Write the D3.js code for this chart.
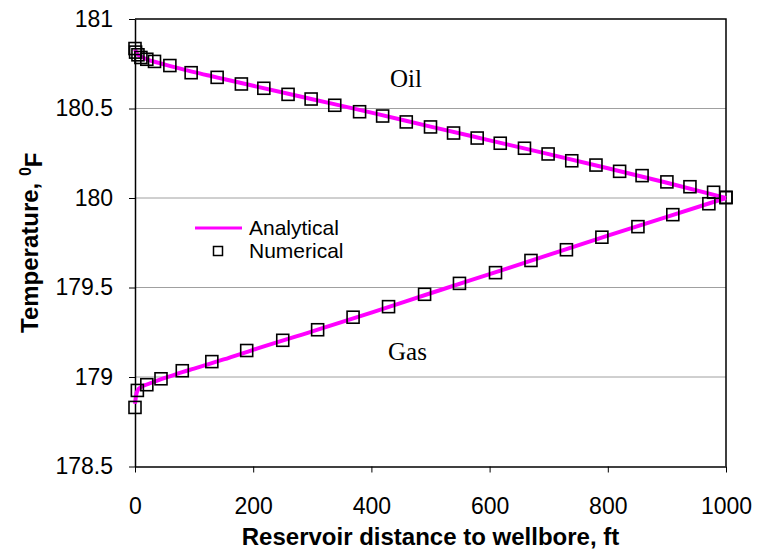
<!DOCTYPE html>
<html>
<head>
<meta charset="utf-8">
<script src="https://cdn.jsdelivr.net/npm/d3@7"></script>
<style>
  body { margin: 0; background: #fff; }
  svg text { font-family: "Liberation Sans", Arial, sans-serif; fill: #000; }
  .axis path { stroke: #000; stroke-width: 1.5; }
  .axis line { stroke: #000; stroke-width: 1; }
  .axis text { font-size: 23px; }
</style>
</head>
<body>
<div id="chart"></div>
<script>
// analytical solution (distance ft, temperature F)
const analyticX = [0, 2, 5, 10, 20, 40, 60, 80, 100, 130, 150, 200, 300, 400, 500, 600, 700, 800, 900, 1000];
const oilAnalytic = [180.83, 180.815, 180.80, 180.79, 180.775, 180.755, 180.737, 180.72, 180.703, 180.68, 180.665, 180.627, 180.552, 180.477, 180.399, 180.322, 180.245, 180.166, 180.085, 180.0];
const gasAnalytic = [178.85, 178.90, 178.928, 178.943, 178.958, 178.983, 179.005, 179.027, 179.047, 179.078, 179.098, 179.152, 179.255, 179.36, 179.468, 179.575, 179.682, 179.79, 179.895, 180.0];

// numerical results
const oilNumX = [0, 1, 5, 10, 20, 33, 59, 95, 139, 180, 218, 259, 298, 338, 380, 419, 459, 500, 539, 579, 618, 659, 699, 739, 780, 820, 858, 900, 939, 979, 1000];
const oilNum = [180.835, 180.815, 180.80, 180.785, 180.775, 180.763, 180.74, 180.70, 180.674, 180.637, 180.613, 180.579, 180.553, 180.518, 180.482, 180.458, 180.425, 180.397, 180.363, 180.335, 180.306, 180.278, 180.246, 180.208, 180.184, 180.149, 180.125, 180.09, 180.063, 180.032, 180.004];
const gasNumX = [0, 4, 20, 44, 80, 130, 189, 250, 309, 369, 429, 490, 549, 610, 670, 730, 790, 851, 910, 971, 1000];
const gasNum = [178.83, 178.925, 178.957, 178.99, 179.035, 179.086, 179.148, 179.205, 179.264, 179.334, 179.393, 179.462, 179.523, 179.583, 179.651, 179.711, 179.781, 179.84, 179.907, 179.968, 180.002];

const xTicks = [0, 200, 400, 600, 800, 1000];
const yTicks = [178.5, 179, 179.5, 180, 180.5, 181];
const gridValues = [179, 179.5, 180, 180.5];

const width = 757, height = 552;
const plot = {left: 135, right: 726, top: 19, bottom: 466.5};

const svg = d3.select("#chart").append("svg")
    .attr("width", width)
    .attr("height", height);

const x = d3.scaleLinear().domain([0, 1000]).range([plot.left, plot.right]);
const y = d3.scaleLinear().domain([178.5, 181]).range([plot.bottom, plot.top]);

// gridlines
svg.selectAll(".grid")
    .data(gridValues)
    .enter()
    .append("line")
    .attr("x1", plot.left)
    .attr("x2", plot.right)
    .attr("y1", d => y(d))
    .attr("y2", d => y(d))
    .style("stroke", "#a0a0a0")
    .style("stroke-width", 1);

// top / right border
svg.append("path")
    .attr("d", `M${plot.left},${plot.top}H${plot.right}V${plot.bottom}`)
    .style("fill", "none")
    .style("stroke", "#000")
    .style("stroke-width", 1.5);

// axes
svg.append("g")
    .attr("class", "axis")
    .attr("transform", `translate(0,${plot.bottom})`)
    .call(d3.axisBottom(x).tickValues(xTicks).tickSizeInner(6).tickSizeOuter(0).tickPadding(25).tickFormat(d3.format("d")));

svg.append("g")
    .attr("class", "axis")
    .attr("transform", `translate(${plot.left},0)`)
    .call(d3.axisLeft(y).tickValues(yTicks).tickSizeInner(6).tickSizeOuter(0).tickPadding(16).tickFormat(d => String(d)));

// analytical lines
const line = (ys) => d3.line()
    .x((d, i) => x(analyticX[i]))
    .y(d => y(d))
    .curve(d3.curveMonotoneX)(ys);

[oilAnalytic, gasAnalytic].forEach(ys => {
    svg.append("path")
        .attr("d", line(ys))
        .style("fill", "none")
        .style("stroke", "#ff00ff")
        .style("stroke-width", 4);
});

// numerical markers
const sq = 12;
const drawSquares = (xs, ys) => {
    svg.append("g").selectAll("rect")
        .data(ys)
        .enter()
        .append("rect")
        .attr("x", (d, i) => x(xs[i]) - sq / 2)
        .attr("y", d => y(d) - sq / 2)
        .attr("width", sq)
        .attr("height", sq)
        .style("fill", "none")
        .style("stroke", "#000")
        .style("stroke-width", 1.6);
};
drawSquares(oilNumX, oilNum);
drawSquares(gasNumX, gasNum);

// annotations
svg.append("text")
    .attr("x", 390)
    .attr("y", 87)
    .style("font-family", "'Liberation Serif', 'Times New Roman', serif")
    .style("font-size", "25px")
    .text("Oil");

svg.append("text")
    .attr("x", 388)
    .attr("y", 360)
    .style("font-family", "'Liberation Serif', 'Times New Roman', serif")
    .style("font-size", "25px")
    .text("Gas");

// legend
svg.append("line")
    .attr("x1", 195).attr("x2", 242)
    .attr("y1", 228).attr("y2", 228)
    .style("stroke", "#ff00ff")
    .style("stroke-width", 3);
svg.append("text")
    .attr("x", 249).attr("y", 235)
    .style("font-size", "21px")
    .text("Analytical");
svg.append("rect")
    .attr("x", 213.5).attr("y", 246.5)
    .attr("width", 9).attr("height", 9)
    .style("fill", "none")
    .style("stroke", "#000")
    .style("stroke-width", 1.5);
svg.append("text")
    .attr("x", 249).attr("y", 258)
    .style("font-size", "21px")
    .text("Numerical");

// axis titles
svg.append("text")
    .attr("x", (plot.left + plot.right) / 2)
    .attr("y", 545)
    .attr("text-anchor", "middle")
    .style("font-size", "24px")
    .style("font-weight", "bold")
    .text("Reservoir distance to wellbore, ft");

const yTitle = svg.append("text")
    .attr("transform", `translate(38,${(plot.top + plot.bottom) / 2}) rotate(-90)`)
    .attr("text-anchor", "middle")
    .style("font-size", "24px")
    .style("font-weight", "bold");
yTitle.append("tspan").text("Temperature, ");
yTitle.append("tspan").attr("dy", "-0.45em").style("font-size", "16px").text("0");
yTitle.append("tspan").attr("dy", "0.45em").text("F");
</script>
</body>
</html>
